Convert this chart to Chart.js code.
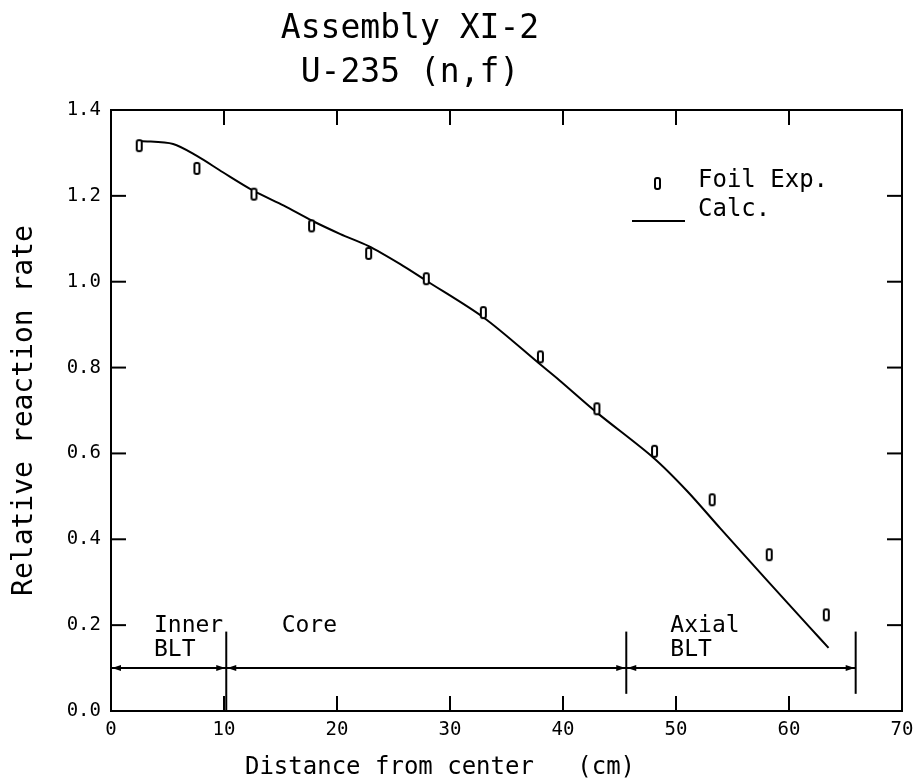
<!DOCTYPE html>
<html>
<head>
<meta charset="utf-8">
<script src="https://cdn.jsdelivr.net/npm/chart.js@4"></script>
<style>
  body { margin: 0; background: #fff; }
</style>
</head>
<body>
<canvas id="chart" width="913" height="780"></canvas>
<script>
// foil measurements (cm, relative rate)
const expX = [2.5, 7.6, 12.65, 17.75, 22.8, 27.9, 32.95, 38.0, 43.0, 48.1, 53.2, 58.25, 63.3];
const expY = [1.317, 1.264, 1.204, 1.130, 1.066, 1.007, 0.928, 0.825, 0.704, 0.605, 0.492, 0.364, 0.224];

// calculated curve
const calcX = [2.6, 5.5, 7.6, 9.9, 12.6, 15.3, 17.8, 20.3, 22.8, 25.6, 27.8, 33.0, 38.0, 39.7, 43.0, 48.0, 51.0, 53.9, 58.0, 61.9, 63.5];
const calcY = [1.328, 1.321, 1.293, 1.255, 1.212, 1.177, 1.142, 1.111, 1.083, 1.041, 1.004, 0.916, 0.807, 0.770, 0.695, 0.590, 0.512, 0.426, 0.306, 0.193, 0.147];

const xTicks = [0, 10, 20, 30, 40, 50, 60, 70];
const yTicks = [0.0, 0.2, 0.4, 0.6, 0.8, 1.0, 1.2, 1.4];

// region boundaries along x (cm)
const regionEdges = [0, 10.2, 45.6, 65.9];
const regionNames = [["Inner", "BLT"], ["Core"], ["Axial", "BLT"]];

const FONT = "'DejaVu Sans Mono', monospace";
Chart.defaults.font.family = FONT;
Chart.defaults.color = "#000";

// little open rounded box used for the foil points
function foilMarker() {
  const c = document.createElement("canvas");
  c.width = 9; c.height = 15;
  const g = c.getContext("2d");
  g.fillStyle = "#fff";
  g.strokeStyle = "#000";
  g.lineWidth = 2;
  g.beginPath();
  g.roundRect(2, 2, 5, 11, 2);
  g.fill();
  g.stroke();
  return c;
}
const marker = foilMarker();

function seg(ctx, x1, y1, x2, y2) {
  ctx.beginPath();
  ctx.moveTo(x1, y1);
  ctx.lineTo(x2, y2);
  ctx.stroke();
}

function arrowHead(ctx, tipX, y, dir) {
  ctx.beginPath();
  ctx.moveTo(tipX, y);
  ctx.lineTo(tipX + dir * 9, y - 3);
  ctx.lineTo(tipX + dir * 9, y + 3);
  ctx.closePath();
  ctx.fill();
}

const decor = {
  id: "decor",
  afterDraw(chart) {
    const { ctx, chartArea: a, scales: { x, y } } = chart;
    ctx.save();
    ctx.strokeStyle = "#000";
    ctx.fillStyle = "#000";
    ctx.lineWidth = 2;

    // frame + inward ticks
    ctx.strokeRect(a.left, a.top, a.right - a.left, a.bottom - a.top);
    xTicks.slice(1, -1).forEach(v => {
      const px = x.getPixelForValue(v);
      seg(ctx, px, a.bottom, px, a.bottom - 15);
      seg(ctx, px, a.top, px, a.top + 15);
    });
    yTicks.slice(1, -1).forEach(v => {
      const py = y.getPixelForValue(v);
      seg(ctx, a.left, py, a.left + 15, py);
      seg(ctx, a.right, py, a.right - 15, py);
    });

    // region boundaries and arrows
    const ay = y.getPixelForValue(0.1);
    const edgeTop = y.getPixelForValue(0.185);
    regionEdges.forEach((e, i) => {
      if (i === 0) return;
      const px = x.getPixelForValue(e);
      const bottom = i === 1 ? a.bottom : y.getPixelForValue(0.04);
      seg(ctx, px, edgeTop, px, bottom);
    });
    for (let i = 0; i < regionEdges.length - 1; i++) {
      const x1 = x.getPixelForValue(regionEdges[i]);
      const x2 = x.getPixelForValue(regionEdges[i + 1]);
      seg(ctx, x1, ay, x2, ay);
      arrowHead(ctx, x1 + 1, ay, 1);
      arrowHead(ctx, x2 - 1, ay, -1);
    }

    // region names
    ctx.font = "23px " + FONT;
    ctx.textBaseline = "alphabetic";
    const nameX = [3.8, 15.1, 49.5];
    regionNames.forEach((lines, i) => {
      const px = x.getPixelForValue(nameX[i]);
      lines.forEach((t, j) => {
        ctx.fillText(t, px, y.getPixelForValue(j === 0 ? 0.185 : 0.128));
      });
    });

    // legend
    const ds = chart.data.datasets;
    ctx.font = "24px " + FONT;
    ctx.drawImage(marker, 653, 176);
    ctx.fillText(ds[0].label, 698, 187);
    seg(ctx, 632, 221, 685, 221);
    ctx.fillText(ds[1].label, 698, 216);

    // main title and x-axis title
    ctx.textAlign = "center";
    ctx.font = "33px " + FONT;
    ctx.fillText("Assembly XI-2", 410, 38);
    ctx.fillText("U-235 (n,f)", 410, 82);
    ctx.font = "24px " + FONT;
    ctx.fillText("Distance from center   (cm)", 440, 774);
    ctx.restore();
  }
};

new Chart(document.getElementById("chart"), {
  type: "scatter",
  data: {
    datasets: [
      {
        label: "Foil Exp.",
        data: expX.map((v, i) => ({ x: v, y: expY[i] })),
        pointStyle: marker,
        pointRadius: 5,
        showLine: false
      },
      {
        label: "Calc.",
        data: calcX.map((v, i) => ({ x: v, y: calcY[i] })),
        showLine: true,
        borderColor: "#000",
        borderWidth: 2,
        pointRadius: 0,
        tension: 0.3
      }
    ]
  },
  options: {
    responsive: false,
    animation: false,
    layout: { padding: { top: 110, right: 11, left: 0, bottom: 0 } },
    plugins: {
      legend: { display: false },
      tooltip: { enabled: false }
    },
    scales: {
      x: {
        type: "linear",
        min: 0,
        max: 70,
        afterBuildTicks: s => { s.ticks = xTicks.map(v => ({ value: v })); },
        ticks: { font: { size: 19 }, padding: 8, maxRotation: 0 },
        grid: { drawOnChartArea: false, drawTicks: false },
        border: { color: "#000", width: 2 },
        afterFit: s => { s.height = 69; s.paddingLeft = 0; s.paddingRight = 0; }
      },
      y: {
        min: 0,
        max: 1.4,
        afterBuildTicks: s => { s.ticks = yTicks.map(v => ({ value: v })); },
        ticks: { font: { size: 19 }, padding: 10, callback: v => v.toFixed(1) },
        grid: { drawOnChartArea: false, drawTicks: false },
        border: { color: "#000", width: 2 },
        title: {
          display: true,
          text: "Relative reaction rate",
          font: { size: 28 },
          padding: { top: 8, bottom: 0 }
        },
        afterFit: s => { s.width = 111; }
      }
    }
  },
  plugins: [decor]
});
</script>
</body>
</html>
